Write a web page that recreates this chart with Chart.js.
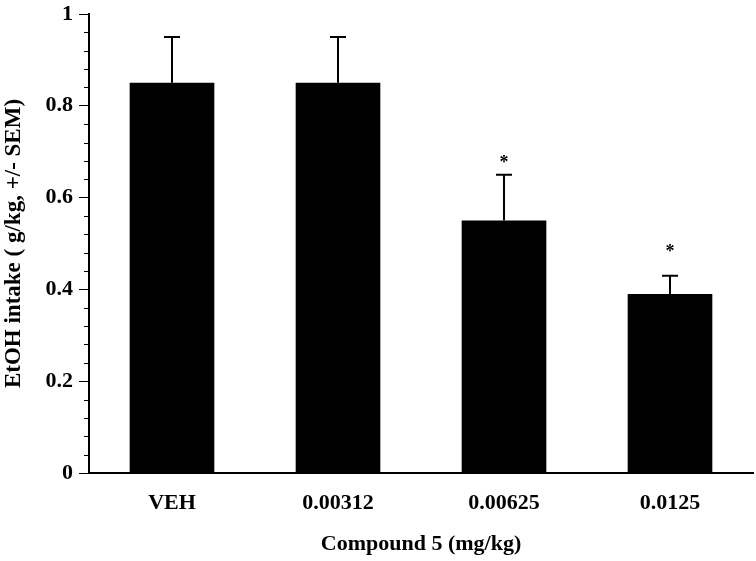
<!DOCTYPE html>
<html>
<head>
<meta charset="utf-8">
<script src="https://cdn.jsdelivr.net/npm/chart.js@4/dist/chart.umd.min.js"></script>
<style>
  html, body { margin: 0; padding: 0; background: #fff; }
  #wrap { width: 756px; height: 561px; }
</style>
</head>
<body>
<div id="wrap"><canvas id="chart"></canvas></div>
<script>
const categories = ["VEH", "0.00312", "0.00625", "0.0125"];
const intake = [0.85, 0.85, 0.55, 0.39];
const sem = [0.10, 0.10, 0.10, 0.04];
// level (in g/kg) where the significance asterisk sits, null = none
const starLevel = [null, null, 0.685, 0.49];
const yTicks = [0, 0.2, 0.4, 0.6, 0.8, 1];

const FONT = "'Liberation Serif', 'Times New Roman', serif";

// error bars (upward only) + asterisks
const errorBars = {
    id: "errorBars",
    afterDatasetsDraw(chart) {
        const ctx = chart.ctx;
        const meta = chart.getDatasetMeta(0);
        const y = chart.scales.y;
        ctx.save();
        ctx.strokeStyle = "#000";
        ctx.lineWidth = 2;
        meta.data.forEach((bar, i) => {
            const top = y.getPixelForValue(intake[i] + sem[i]);
            const base = y.getPixelForValue(intake[i]);
            ctx.beginPath();
            ctx.moveTo(bar.x, base);
            ctx.lineTo(bar.x, top);
            ctx.moveTo(bar.x - 8, top);
            ctx.lineTo(bar.x + 8, top);
            ctx.stroke();
            if (starLevel[i] !== null) {
                ctx.fillStyle = "#000";
                ctx.font = "bold 18px " + FONT;
                ctx.textAlign = "center";
                ctx.textBaseline = "alphabetic";
                ctx.fillText("*", bar.x, y.getPixelForValue(starLevel[i]) + 9);
            }
        });
        ctx.restore();
    }
};

// short minor ticks on the y axis
const minorTicks = {
    id: "minorTicks",
    afterDraw(chart) {
        const ctx = chart.ctx;
        const y = chart.scales.y;
        const left = chart.chartArea.left;
        ctx.save();
        ctx.strokeStyle = "#000";
        ctx.lineWidth = 1;
        for (let k = 0; k <= 25; k++) {
            if (k % 5 === 0) continue;
            const py = Math.round(y.getPixelForValue(k * 0.04)) + 0.5;
            ctx.beginPath();
            ctx.moveTo(left - 5, py);
            ctx.lineTo(left, py);
            ctx.stroke();
        }
        ctx.restore();
    }
};

new Chart(document.getElementById("chart"), {
    type: "bar",
    data: {
        labels: categories,
        datasets: [{
            data: intake,
            backgroundColor: "#000",
            borderWidth: 0,
            barPercentage: 0.51,
            categoryPercentage: 1.0
        }]
    },
    options: {
        responsive: true,
        maintainAspectRatio: false,
        animation: false,
        layout: { autoPadding: false, padding: { top: 14, right: 3, left: 0, bottom: 0 } },
        plugins: {
            legend: { display: false },
            tooltip: { enabled: false }
        },
        scales: {
            x: {
                afterFit(scale) {
                    scale.height = 88;
                    scale.paddingLeft = 0;
                    scale.paddingRight = 0;
                },
                grid: { display: false, drawTicks: false },
                border: { display: true, color: "#000", width: 2 },
                ticks: {
                    color: "#000",
                    padding: 17,
                    font: { family: FONT, size: 22, weight: "bold" }
                },
                title: {
                    display: true,
                    text: "Compound 5 (mg/kg)",
                    color: "#000",
                    padding: { top: 0, bottom: 3 },
                    font: { family: FONT, size: 22, weight: "bold" }
                }
            },
            y: {
                min: 0,
                max: 1,
                afterFit(scale) {
                    scale.width = 89;
                    scale.paddingTop = 0;
                    scale.paddingBottom = 0;
                },
                afterBuildTicks(scale) { scale.ticks = yTicks.map(v => ({ value: v })); },
                grid: { drawOnChartArea: false, drawTicks: true, tickLength: 10, tickColor: "#000", tickWidth: 1 },
                border: { display: true, color: "#000", width: 2 },
                ticks: {
                    color: "#000",
                    padding: 6,
                    font: { family: FONT, size: 22, weight: "bold" },
                    callback: v => String(v)
                },
                title: {
                    display: true,
                    text: "EtOH intake ( g/kg, +/- SEM)",
                    color: "#000",
                    padding: { top: 0, bottom: 0 },
                    font: { family: FONT, size: 23, weight: "bold" }
                }
            }
        }
    },
    plugins: [errorBars, minorTicks]
});
</script>
</body>
</html>
